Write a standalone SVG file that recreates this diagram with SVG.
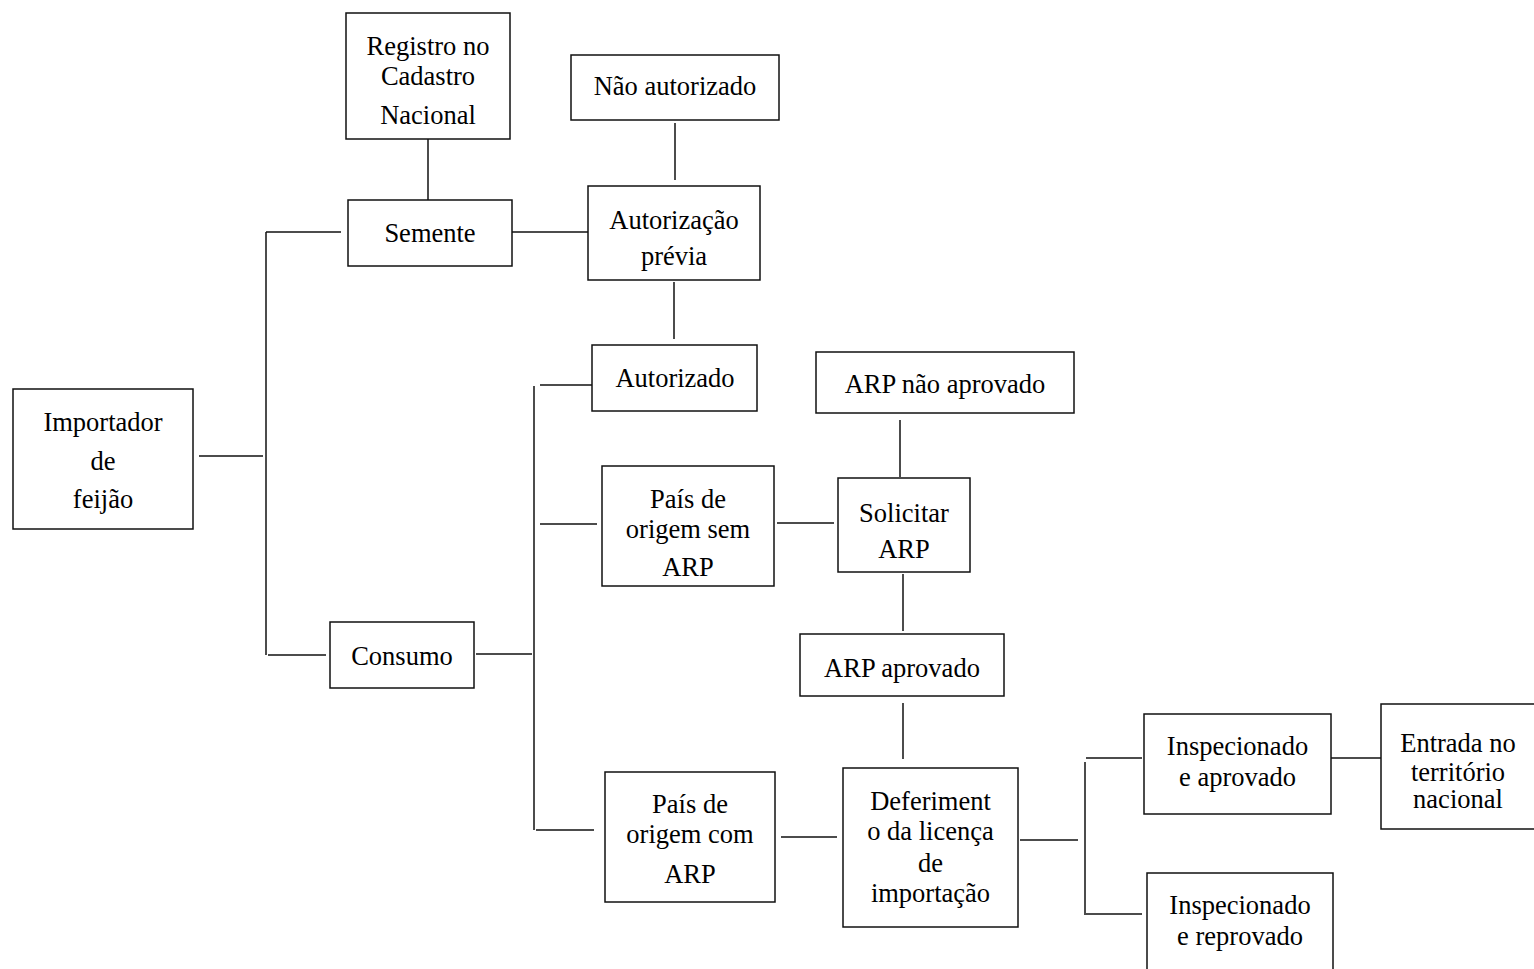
<svg xmlns="http://www.w3.org/2000/svg" width="1534" height="969" viewBox="0 0 1534 969">
<style>
rect{fill:#fff;stroke:#111;stroke-width:1.5}
text{font-family:"Liberation Serif","Times New Roman",serif;font-size:26.5px;fill:#000;text-anchor:middle}
#connectors path{fill:none;stroke:#111;stroke-width:1.5}
</style>
<rect x="0" y="0" width="1534" height="969" style="fill:#fff;stroke:none"/>
<g id="connectors">
<path d="M199 456H263"/>
<path d="M266 232V655"/>
<path d="M266 232H341"/>
<path d="M268 655H326"/>
<path d="M476 654H532"/>
<path d="M534 386V830"/>
<path d="M540 385H592"/>
<path d="M540 524H597"/>
<path d="M536 830H594"/>
<path d="M777 523H834"/>
<path d="M781 837H837"/>
<path d="M1020 840H1078"/>
<path d="M1085 762V915"/>
<path d="M1086 758H1142"/>
<path d="M1086 914H1142"/>
<path d="M1331 758H1381"/>
<path d="M512 232H588"/>
<path d="M428 139V200"/>
<path d="M675 123V180"/>
<path d="M674 282V339"/>
<path d="M900 420V477"/>
<path d="M903 574V631"/>
<path d="M903 703V759"/>
</g>
<g id="registro"><rect x="346" y="13" width="164" height="126"/><text x="428" y="55">Registro no</text><text x="428" y="85">Cadastro</text><text x="428" y="124">Nacional</text></g>
<g id="semente"><rect x="348" y="200" width="164" height="66"/><text x="430" y="242">Semente</text></g>
<g id="nao-autorizado"><rect x="571" y="55" width="208" height="65"/><text x="675" y="95">Não autorizado</text></g>
<g id="autorizacao"><rect x="588" y="186" width="172" height="94"/><text x="674" y="229">Autorização</text><text x="674" y="265">prévia</text></g>
<g id="autorizado"><rect x="592" y="345" width="165" height="66"/><text x="675" y="387">Autorizado</text></g>
<g id="arp-nao"><rect x="816" y="352" width="258" height="61"/><text x="945" y="393">ARP não aprovado</text></g>
<g id="importador"><rect x="13" y="389" width="180" height="140"/><text x="103" y="431">Importador</text><text x="103" y="470">de</text><text x="103" y="508">feijão</text></g>
<g id="consumo"><rect x="330" y="622" width="144" height="66"/><text x="402" y="665">Consumo</text></g>
<g id="pais-sem"><rect x="602" y="466" width="172" height="120"/><text x="688" y="508">País de</text><text x="688" y="538">origem sem</text><text x="688" y="576">ARP</text></g>
<g id="solicitar"><rect x="838" y="478" width="132" height="94"/><text x="904" y="522">Solicitar</text><text x="904" y="558">ARP</text></g>
<g id="arp-aprovado"><rect x="800" y="634" width="204" height="62"/><text x="902" y="677">ARP aprovado</text></g>
<g id="pais-com"><rect x="605" y="772" width="170" height="130"/><text x="690" y="813">País de</text><text x="690" y="843">origem com</text><text x="690" y="883">ARP</text></g>
<g id="deferimento"><rect x="843" y="768" width="175" height="159"/><text x="930.5" y="810">Deferiment</text><text x="930.5" y="840">o da licença</text><text x="930.5" y="872">de</text><text x="930.5" y="902">importação</text></g>
<g id="insp-aprovado"><rect x="1144" y="714" width="187" height="100"/><text x="1237.5" y="755">Inspecionado</text><text x="1237.5" y="786">e aprovado</text></g>
<g id="entrada"><rect x="1381" y="704" width="170" height="125"/><text x="1458" y="752">Entrada no</text><text x="1458" y="781">território</text><text x="1458" y="808">nacional</text></g>
<g id="insp-reprovado"><rect x="1147" y="873" width="186" height="120"/><text x="1240" y="914">Inspecionado</text><text x="1240" y="945">e reprovado</text></g>
</svg>
